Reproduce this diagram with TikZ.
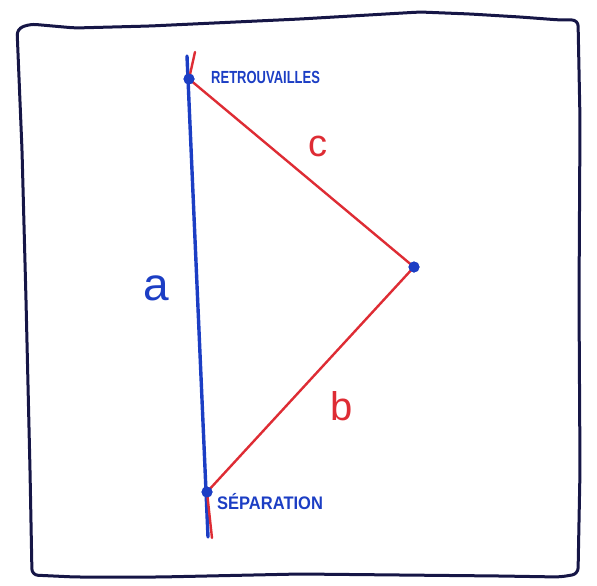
\documentclass[tikz,border=0pt]{standalone}
\usepackage{fontspec}
\setmainfont{Liberation Sans}
\definecolor{penblue}{RGB}{28,62,196}
\definecolor{penred}{RGB}{222,44,52}
\definecolor{pennavy}{RGB}{22,22,70}
\tikzset{
  frame/.style={draw=pennavy,line width=3pt,rounded corners=6pt},
  blueline/.style={draw=penblue,line width=3.4pt,line cap=round},
  redline/.style={draw=penred,line width=2.4pt,line cap=round},
  dot/.style={circle,fill=penblue,inner sep=0pt,minimum size=11pt},
  lbl/.style={text=penblue,inner sep=0pt,anchor=west,font=\bfseries},
}
\begin{document}
\begin{tikzpicture}[x=1pt,y=-1pt]
\useasboundingbox (0,0) rectangle (597,586);
% frame
\draw[frame] (17,29) -- (30,24) -- (75,28) -- (150,26) -- (300,19) -- (420,12) -- (470,14) -- (520,17) -- (560,20) -- (578,20)
  -- (580,120) -- (579,300) -- (580,470) -- (578,574)
  -- (560,577) -- (500,576) -- (300,574) -- (160,577) -- (75,577) -- (32,575)
  -- (30,470) -- (26,300) -- (22,150) -- cycle;
% points
\coordinate (atop) at (187,56);
\coordinate (abot) at (208,537);
\coordinate (rtop) at (195,52);
\coordinate (rbot) at (212,538);
\node[dot] (R) at (189,79) {};
\node[dot] (S) at (207,492) {};
\node[dot] (M) at (414,267) {};
% lines
\draw[blueline] (atop) -- (abot);
\draw[redline] (rtop) -- (R.center) -- (M.center) -- (S.center) -- (rbot);
\node[dot] at (R) {};
\node[dot] at (S) {};
\node[dot] at (M) {};
% labels
\node[lbl,yscale=1.35,font=\bfseries\fontsize{13}{13}\selectfont] (tR) at (211,77) {RETROUVAILLES};
\node[lbl,yscale=1.1,font=\bfseries\fontsize{16.5}{16.5}\selectfont] (tS) at (217,502) {SÉPARATION};
\node[text=penblue,font=\fontsize{46}{46}\selectfont] (la) at (156,288) {a};
\node[text=penred,font=\fontsize{38}{38}\selectfont] (lc) at (318,146) {c};
\node[text=penred,font=\fontsize{40}{40}\selectfont] (lb) at (342,406) {b};
\end{tikzpicture}
\end{document}
